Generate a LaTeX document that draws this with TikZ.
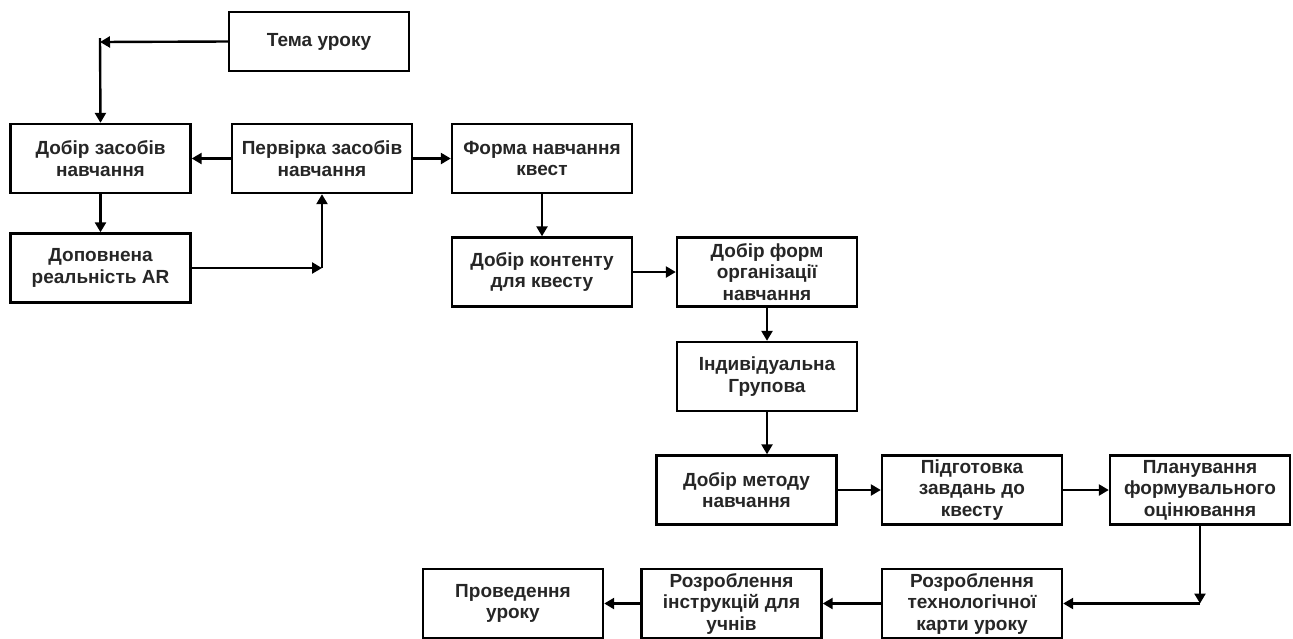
\documentclass[tikz,border=0pt]{standalone}
\usepackage{fontspec}
\setmainfont{Liberation Sans}
\usetikzlibrary{arrows.meta}
\tikzset{
  box/.style={draw=black, line width=2.4pt, minimum width=180pt, minimum height=69pt, inner sep=2pt,
    align=center, font=\fontsize{19}{21.5}\selectfont\bfseries, text=black!85},
  arr/.style={draw=black, line width=2.4pt, -{Triangle[length=10pt,width=11pt]}},
  ln/.style={draw=black, line width=2.4pt}
}
\begin{document}
\begin{tikzpicture}[x=1pt,y=-1pt]
\useasboundingbox (0,0) rectangle (1293,638);
\node[box, minimum height=59pt] (tema) at (319,41.5) {Тема уроку};
\node[box] (dobir) at (100.5,158.5) {Добір засобів\\навчання};
\node[box] (perev) at (322,158.5) {Первірка засобів\\навчання};
\node[box] (dopov) at (100.5,268) {Доповнена\\реальність AR};
\node[box] (forma) at (542,158.5) {Форма навчання\\квест};
\node[box] (kontent) at (542,272) {Добір контенту\\для квесту};
\node[box] (form) at (767,272) {Добір форм\\організації\\навчання};
\node[box] (indiv) at (767,376.5) {Індивідуальна\\Групова};
\node[box] (metod) at (746.5,490) {Добір методу\\навчання};
\node[box] (pidg) at (972,490) {Підготовка\\завдань до\\квесту};
\node[box] (plan) at (1200,490) {Планування\\формувального\\оцінювання};
\node[box] (tech) at (972,603.5) {Розроблення\\технологічної\\карти уроку};
\node[box] (instr) at (731.5,603.5) {Розроблення\\інструкцій для\\учнів};
\node[box] (proved) at (513,603.5) {Проведення\\уроку};
\coordinate (c1) at (100,42);
\coordinate (c0) at (100,38);
\coordinate (c2) at (322,268);
\coordinate (c3) at (1200,603.5);
\draw[arr] (tema.west) -- (c1);
\draw[arr] (c0) -- (dobir.north);
\draw[arr] (perev.west) -- (dobir.east);
\draw[arr] (dobir.south) -- (dopov.north);
\draw[arr] (dopov.east |- c2) -- (c2);
\draw[arr] (c2) -- (perev.south);
\draw[arr] (perev.east) -- (forma.west);
\draw[arr] (forma.south) -- (kontent.north);
\draw[arr] (kontent.east) -- (form.west);
\draw[arr] (form.south) -- (indiv.north);
\draw[arr] (indiv.south) -- (indiv.south |- metod.north);
\draw[arr] (metod.east) -- (pidg.west);
\draw[arr] (pidg.east) -- (plan.west);
\draw[arr] (plan.south) -- (c3);
\draw[arr] (c3) -- (tech.east);
\draw[arr] (tech.west) -- (instr.east);
\draw[arr] (instr.west) -- (proved.east);
\end{tikzpicture}
\end{document}
